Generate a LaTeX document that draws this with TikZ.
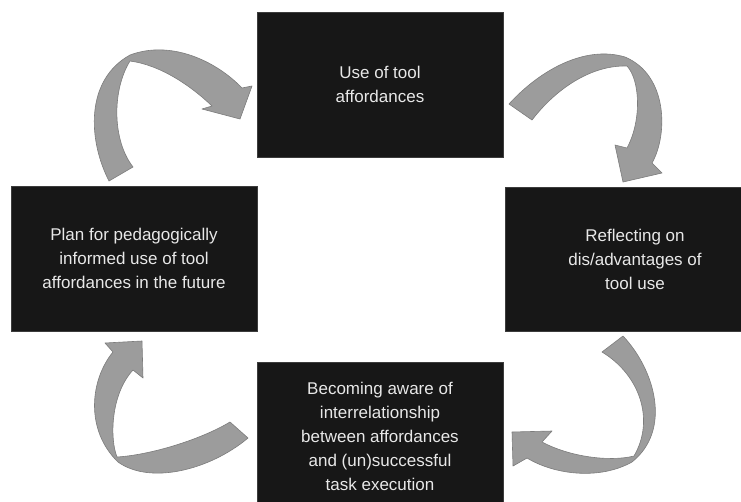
\documentclass[tikz,border=0pt]{standalone}
\usepackage{fontspec}
\setmainfont{Liberation Sans}
\definecolor{boxfill}{HTML}{171717}
\definecolor{boxline}{HTML}{3C3C3C}
\definecolor{boxtext}{HTML}{E8E8E8}
\definecolor{arrowfill}{HTML}{9C9C9C}
\definecolor{arrowline}{HTML}{7C7C7C}
\begin{document}
\begin{tikzpicture}[x=1pt,y=-1pt,
  box/.style={fill=boxfill, draw=boxline, line width=0.8pt, text=boxtext,
    align=center, font=\fontsize{17}{24}\selectfont, inner sep=0pt},
  ribbon/.style={fill=arrowfill, draw=arrowline, line width=0.6pt, line join=round}]
\useasboundingbox (0,0) rectangle (741,501);
\fill[white] (0,0) rectangle (741,501);

% curved ribbon arrows
% top-left: from Plan to Use
\path[ribbon] (109,181) .. controls (88,140) and (85,80) .. (130,55)
  .. controls (170,40) and (215,60) .. (242,88) -- (252,86) -- (240,119)
  -- (202,109) -- (212,106) .. controls (190,85) and (160,65) .. (130,61)
  .. controls (112,90) and (112,140) .. (133,167) -- cycle;
% top-right: from Use to Reflecting
\path[ribbon] (509,104) .. controls (540,70) and (585,45) .. (625,57)
  .. controls (668,75) and (668,135) .. (652,163) -- (662,173) -- (623,182)
  -- (615,145) -- (627,148) .. controls (642,120) and (640,80) .. (627,66)
  .. controls (590,65) and (555,90) .. (532,120) -- cycle;
% bottom-right: from Reflecting to Becoming aware
\path[ribbon] (623,336) .. controls (655,370) and (672,430) .. (632,462)
  .. controls (600,480) and (555,475) .. (527,458) -- (513,466) -- (512,432)
  -- (552,431) -- (542,442) .. controls (570,457) and (610,462) .. (634,456)
  .. controls (655,420) and (640,375) .. (602,352) -- cycle;
% bottom-left: from Becoming aware to Plan
\path[ribbon] (248,438) .. controls (210,470) and (150,485) .. (118,462)
  .. controls (85,430) and (90,380) .. (113,352) -- (105,343) -- (142,341)
  -- (143,378) -- (133,370) .. controls (110,395) and (110,440) .. (117,457)
  .. controls (150,455) and (200,440) .. (230,422) -- cycle;

% boxes
\node[box, minimum width=246pt, minimum height=145pt] (use) at (380,84.5)
  {Use of tool\\affordances};
\node[box, minimum width=246pt, minimum height=145pt] (plan) at (134,258.5)
  {Plan for pedagogically\\informed use of tool\\affordances in the future};
\node[box, minimum width=260pt, minimum height=144pt] (refl) at (635,259)
  {Reflecting on\\dis/advantages of\\tool use};
\node[box, minimum width=246pt, minimum height=148pt] (aware) at (380,436)
  {Becoming aware of\\interrelationship\\between affordances\\and (un)successful\\task execution};
\end{tikzpicture}
\end{document}
